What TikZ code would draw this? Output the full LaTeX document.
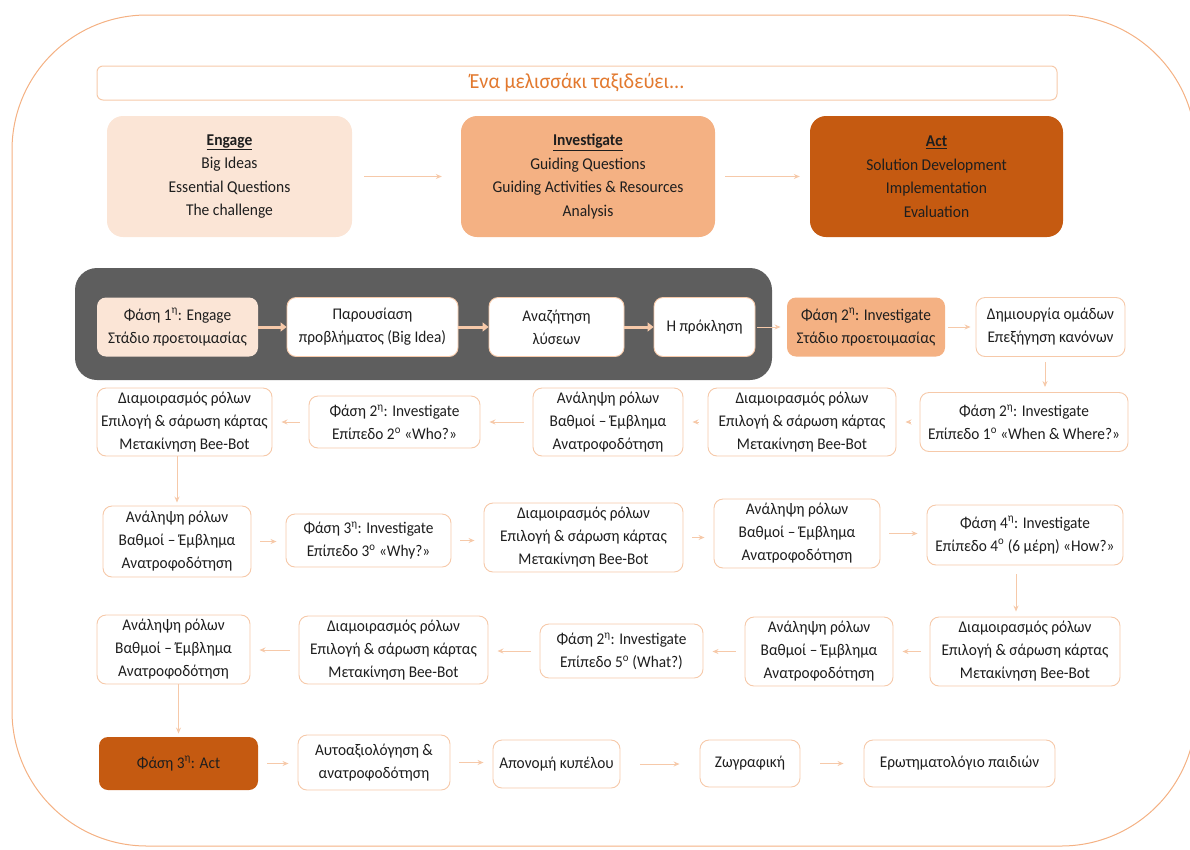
\documentclass[tikz,border=0pt]{standalone}
\usepackage{fontspec}
\setmainfont{Carlito}[FakeStretch=0.94]
\usetikzlibrary{arrows.meta}
\definecolor{peachline}{HTML}{F6C9A9}
\definecolor{peachlight}{HTML}{FBE5D6}
\definecolor{peachmid}{HTML}{F4B183}
\definecolor{rust}{HTML}{C55A11}
\definecolor{band}{HTML}{5E5E5E}
\definecolor{titleorange}{HTML}{E2792F}
\definecolor{ink}{HTML}{1E1E1E}
\tikzset{
  stage/.style={draw=peachline, line width=0.9pt, rounded corners=9pt, fill=white,
    align=center, inner sep=0pt, text=ink, font=\fontsize{16.3}{23}\selectfont},
  phase/.style={draw=none, rounded corners=16pt, align=center, inner sep=0pt,
    text=ink, font=\fontsize{16.5}{23.5}\selectfont},
  conn/.style={draw=peachline, line width=1pt, -{Stealth[length=6pt,width=5pt]},
    shorten <=9pt, shorten >=9pt},
  bandconn/.style={draw=peachline, line width=3pt, -{Triangle[length=6pt,width=9pt]}},
}
\newcommand{\sq}[1]{\textsuperscript{#1}}
\begin{document}
\begin{tikzpicture}[x=1pt,y=-1pt]
\useasboundingbox (0,0) rectangle (1190,849);
% outer frame
\begin{scope}
\clip (0,0) rectangle (1190,849);
\draw[peachmid, line width=1pt, rounded corners=135pt] (12,15) rectangle (1196,846);
\end{scope}

% title
\node[draw=peachline, line width=1pt, rounded corners=6pt, minimum width=960pt, minimum height=34pt,
  inner sep=0pt, text=titleorange, font=\fontsize{21.5}{24}\selectfont] (title) at (577,83)
  {Ένα μελισσάκι ταξιδεύει...};

% three phases of the model
\node[phase, fill=peachlight, minimum width=245pt, minimum height=121pt] (engage) at (229.5,176.5)
  {\underline{\textbf{Engage}}\\Big Ideas\\Essential Questions\\The challenge};
\node[phase, fill=peachmid, minimum width=254pt, minimum height=121pt] (investigate) at (588,176.5)
  {\underline{\textbf{Investigate}}\\Guiding Questions\\Guiding Activities \& Resources\\Analysis};
\node[phase, fill=rust, minimum width=253pt, minimum height=121pt] (act) at (936.5,176.5)
  {\underline{\textbf{Act}}\\Solution Development\\Implementation\\Evaluation};
\draw[conn, shorten <=12pt, shorten >=19pt] (engage) -- (investigate);
\draw[conn, shorten <=10pt, shorten >=10pt] (investigate) -- (act);

% engage band
\fill[band, rounded corners=22pt] (75,268) rectangle (772,380);

% row 1
\node[stage, fill=peachlight, draw=none, minimum width=161pt, minimum height=59pt] (p1) at (177.5,327)
  {Φάση 1\sq{η}: Engage\\Στάδιο προετοιμασίας};
\node[stage, minimum width=171pt, minimum height=59pt] (pres) at (372.5,327)
  {Παρουσίαση\\προβλήματος (Big Idea)};
\node[stage, minimum width=135pt, minimum height=59pt] (search) at (556.5,327)
  {Αναζήτηση\\λύσεων};
\node[stage, minimum width=101pt, minimum height=59pt] (chal) at (704.5,327)
  {Η πρόκληση};
\node[stage, fill=peachmid, draw=none, minimum width=158pt, minimum height=59pt] (inv2) at (866,327)
  {Φάση 2\sq{η}: Investigate\\Στάδιο προετοιμασίας};
\node[stage, minimum width=149pt, minimum height=59pt] (teams) at (1050.5,327)
  {Δημιουργία ομάδων\\Επεξήγηση κανόνων};
\draw[bandconn] (p1) -- (pres);
\draw[bandconn] (pres) -- (search);
\draw[bandconn] (search) -- (chal);
\draw[conn, shorten <=2pt, shorten >=6pt] (chal) -- (inv2);
\draw[conn, shorten <=3pt, shorten >=5pt] (inv2) -- (teams);

% row 2
\node[stage, minimum width=175pt, minimum height=68pt] (r2a) at (184.5,422)
  {Διαμοιρασμός ρόλων\\Επιλογή \& σάρωση κάρτας\\Μετακίνηση Bee-Bot};
\node[stage, minimum width=171pt, minimum height=52pt] (r2b) at (394.5,422)
  {Φάση 2\sq{η}: Investigate\\Επίπεδο 2\sq{ο} «Who?»};
\node[stage, minimum width=150pt, minimum height=68pt] (r2c) at (608,422)
  {Ανάληψη ρόλων\\Βαθμοί – Έμβλημα\\Ανατροφοδότηση};
\node[stage, minimum width=188pt, minimum height=68pt] (r2d) at (802,422)
  {Διαμοιρασμός ρόλων\\Επιλογή \& σάρωση κάρτας\\Μετακίνηση Bee-Bot};
\node[stage, minimum width=208pt, minimum height=59pt] (r2e) at (1024,422)
  {Φάση 2\sq{η}: Investigate\\Επίπεδο 1\sq{ο} «When \& Where?»};
\draw[conn, shorten <=5pt, shorten >=5pt] (teams.south -| 1045,0) -- (r2e.north -| 1045,0);
\draw[conn] (r2e) -- (r2d);
\draw[conn] (r2d) -- (r2c);
\draw[conn] (r2c) -- (r2b);
\draw[conn] (r2b) -- (r2a);

% row 3
\node[stage, minimum width=148pt, minimum height=71pt] (r3a) at (177,541.5)
  {Ανάληψη ρόλων\\Βαθμοί – Έμβλημα\\Ανατροφοδότηση};
\node[stage, minimum width=165pt, minimum height=53pt] (r3b) at (368.5,540.5)
  {Φάση 3\sq{η}: Investigate\\Επίπεδο 3\sq{ο} «Why?»};
\node[stage, minimum width=199pt, minimum height=69pt] (r3c) at (583.5,537.5)
  {Διαμοιρασμός ρόλων\\Επιλογή \& σάρωση κάρτας\\Μετακίνηση Bee-Bot};
\node[stage, minimum width=166pt, minimum height=69pt] (r3d) at (797,533.5)
  {Ανάληψη ρόλων\\Βαθμοί – Έμβλημα\\Ανατροφοδότηση};
\node[stage, minimum width=196pt, minimum height=60pt] (r3e) at (1025,535)
  {Φάση 4\sq{η}: Investigate\\Επίπεδο 4\sq{ο} (6 μέρη) «How?»};
\draw[conn, shorten <=0pt, shorten >=3pt] (r3a.north |- r2a.south) -- (r3a.north);
\draw[conn] (r3a.east) -- (r3a.east -| r3b.west);
\draw[conn] (r3b.east) -- (r3b.east -| r3c.west);
\draw[conn] (r3c.east) -- (r3c.east -| r3d.west);
\draw[conn] (r3d.east) -- (r3d.east -| r3e.west);

% row 4
\node[stage, minimum width=153pt, minimum height=69pt] (r4a) at (173.5,649.5)
  {Ανάληψη ρόλων\\Βαθμοί – Έμβλημα\\Ανατροφοδότηση};
\node[stage, minimum width=189pt, minimum height=68pt] (r4b) at (393.5,650)
  {Διαμοιρασμός ρόλων\\Επιλογή \& σάρωση κάρτας\\Μετακίνηση Bee-Bot};
\node[stage, minimum width=163pt, minimum height=54pt] (r4c) at (621.5,651)
  {Φάση 2\sq{η}: Investigate\\Επίπεδο 5\sq{ο} (What?)};
\node[stage, minimum width=148pt, minimum height=69pt] (r4d) at (819,651.5)
  {Ανάληψη ρόλων\\Βαθμοί – Έμβλημα\\Ανατροφοδότηση};
\node[stage, minimum width=190pt, minimum height=69pt] (r4e) at (1025,651.5)
  {Διαμοιρασμός ρόλων\\Επιλογή \& σάρωση κάρτας\\Μετακίνηση Bee-Bot};
\draw[conn, shorten <=9pt, shorten >=5pt] (r3e.south -| 1016,0) -- (r4e.north -| 1016,0);
\draw[conn] (r4e.west) -- (r4e.west -| r4d.east);
\draw[conn] (r4d.west) -- (r4d.west -| r4c.east);
\draw[conn] (r4c.west) -- (r4c.west -| r4b.east);
\draw[conn] (r4b.west) -- (r4b.west -| r4a.east);

% row 5
\node[stage, fill=rust, draw=none, minimum width=159pt, minimum height=53pt] (r5a) at (178.5,763.5)
  {Φάση 3\sq{η}: Act};
\node[stage, minimum width=152pt, minimum height=55pt] (r5b) at (374,762.5)
  {Αυτοαξιολόγηση \&\\ανατροφοδότηση};
\node[stage, minimum width=127pt, minimum height=48pt] (r5c) at (556.5,764)
  {Απονομή κυπέλου};
\node[stage, minimum width=100pt, minimum height=47pt] (r5d) at (750,763.5)
  {Ζωγραφική};
\node[stage, minimum width=191pt, minimum height=47pt] (r5e) at (959.5,763.5)
  {Ερωτηματολόγιο παιδιών};
\draw[conn, shorten <=0pt, shorten >=3pt] (r5a.north |- r4a.south) -- (r5a.north);
\draw[conn] (r5a.east) -- (r5a.east -| r5b.west);
\draw[conn] (r5b.east) -- (r5b.east -| r5c.west);
\draw[conn, shorten <=20pt, shorten >=20pt] (r5c.east) -- (r5c.east -| r5d.west);
\draw[conn, shorten <=20pt, shorten >=20pt] (r5d.east) -- (r5d.east -| r5e.west);
\end{tikzpicture}
\end{document}
